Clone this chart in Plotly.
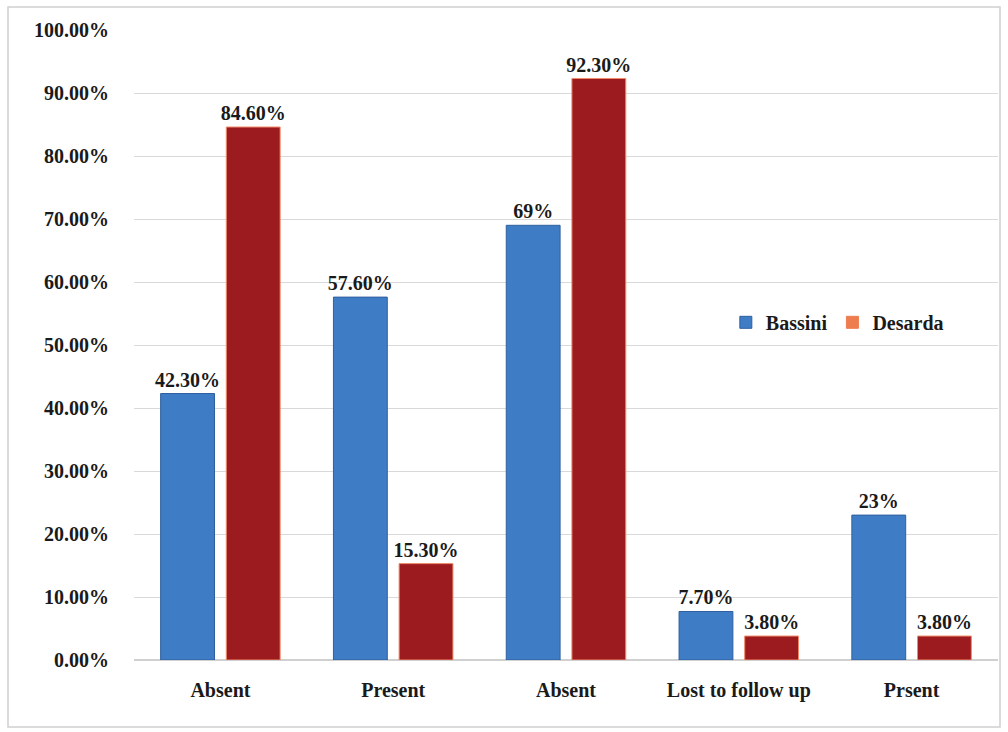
import plotly.graph_objects as go

categories = ["Absent", "Present", "Absent", "Lost to follow up", "Prsent"]
bassini = [42.3, 57.6, 69.0, 7.7, 23.0]
desarda = [84.6, 15.3, 92.3, 3.8, 3.8]
bassini_labels = ["42.30%", "57.60%", "69%", "7.70%", "23%"]
desarda_labels = ["84.60%", "15.30%", "92.30%", "3.80%", "3.80%"]
y_ticks = list(range(0, 101, 10))
y_tick_labels = [f"{v:.2f}%" for v in y_ticks]

positions = list(range(len(categories)))
FONT = "Liberation Serif, Times New Roman, serif"
FS = 20
lab_font = dict(family=FONT, size=FS, color="#1a1a1a", weight="bold")

fig = go.Figure()
fig.add_trace(go.Bar(
    x=positions, y=bassini, name="Bassini", offsetgroup="b",
    marker=dict(color="#3e7cc6", line=dict(color="#2f5f9e", width=1)),
    text=bassini_labels, textposition="outside", textfont=lab_font,
    constraintext="none", cliponaxis=False,
))
fig.add_trace(go.Bar(
    x=positions, y=desarda, name="Desarda", showlegend=False, offsetgroup="d",
    marker=dict(color="#9c1b1f", line=dict(color="#f08a6a", width=1)),
    text=desarda_labels, textposition="outside", textfont=lab_font,
    constraintext="none", cliponaxis=False,
))
# legend entry for Desarda (legend swatch is orange in the original)
fig.add_trace(go.Bar(
    x=[None], y=[None], name="Desarda", offsetgroup="d",
    marker=dict(color="#ed7d4f", line=dict(color="#ed7d4f", width=1)),
))

L, R = 134, 10
PW = 1008 - L - R
fig.update_layout(
    width=1008, height=732,
    paper_bgcolor="white", plot_bgcolor="white",
    margin=dict(l=L, r=R, t=30, b=72),
    barmode="group", bargap=0.24, bargroupgap=0.18,
    font=dict(family=FONT, size=FS, color="#1a1a1a", weight="bold"),
    legend=dict(
        orientation="h", x=0.685, y=0.536, xanchor="left", yanchor="middle",
        font=dict(family=FONT, size=FS, color="#1a1a1a", weight="bold"),
        bgcolor="rgba(0,0,0,0)", itemwidth=30, tracegroupgap=0,
    ),
    showlegend=True,
    shapes=[dict(
        type="rect", xref="paper", yref="paper",
        x0=(8 - L) / PW, x1=(1000 - L) / PW,
        y0=(660 - 727) / 630, y1=(660 - 7) / 630,
        line=dict(color="#d0d0d0", width=1.5), fillcolor="rgba(0,0,0,0)",
        layer="below",
    )],
)
fig.update_xaxes(
    tickvals=positions, ticktext=categories, range=[-0.5, len(categories) - 0.5],
    showgrid=False, showline=False, zeroline=False, ticks="",
    tickfont=dict(family=FONT, size=FS, color="#1a1a1a", weight="bold"),
    ticklabelstandoff=16,
)
fig.update_yaxes(
    range=[0, 100], tickvals=y_ticks, ticktext=y_tick_labels,
    showgrid=True, gridcolor="#d9d9d9", gridwidth=1,
    zeroline=True, zerolinecolor="#d0d0d0", zerolinewidth=1.5,
    showline=False, ticks="",
    tickfont=dict(family=FONT, size=FS, color="#1a1a1a", weight="bold"),
    ticklabelstandoff=24,
)

fig.write_html("out.html")
